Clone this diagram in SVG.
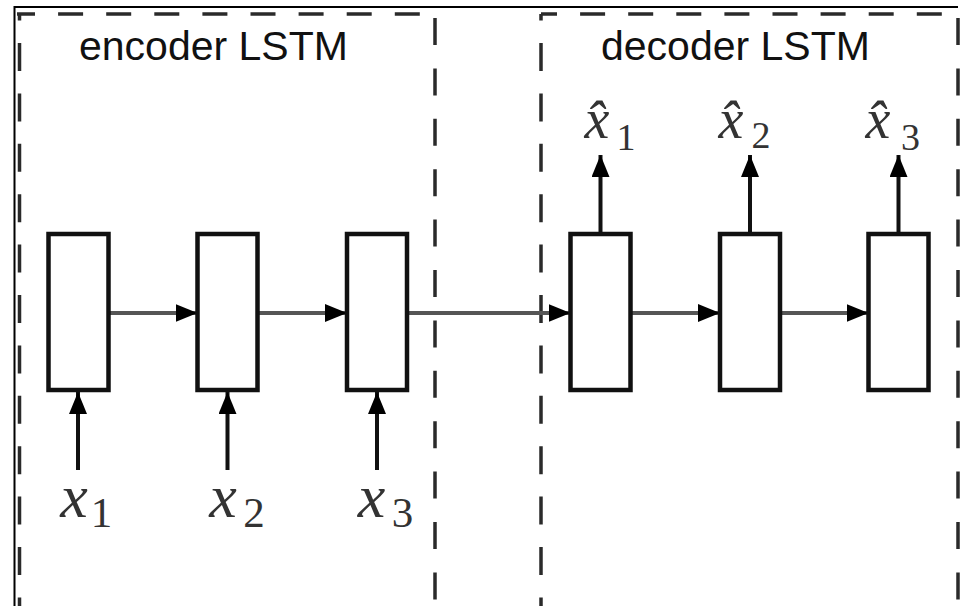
<svg xmlns="http://www.w3.org/2000/svg" width="961" height="606" viewBox="0 0 961 606">
<style>
.frame{stroke:#000;stroke-width:2;fill:none}
.dh{stroke:#2a2a2a;stroke-width:3.5;fill:none;stroke-dasharray:25 23.1}
.dv{stroke:#2a2a2a;stroke-width:3.5;fill:none;stroke-dasharray:28 22.4}
.dvr{stroke:#2a2a2a;stroke-width:3.5;fill:none;stroke-dasharray:27 23.4}
.cell{fill:#fff;stroke:#111;stroke-width:4.5}
.flow{stroke:#555;stroke-width:4;fill:none;marker-end:url(#ah)}
.io{stroke:#111;stroke-width:4;fill:none;marker-end:url(#ah)}
.title{font-family:"Liberation Sans",Arial,sans-serif;font-size:41px;fill:#111}
.mi{font-family:"Liberation Serif","Times New Roman",serif;font-style:italic;fill:#333}
.sub{font-family:"Liberation Serif","Times New Roman",serif;fill:#333}
</style>
<defs>
<marker id="ah" markerUnits="userSpaceOnUse" markerWidth="24" markerHeight="20" refX="22" refY="9" orient="auto">
<path d="M0,0 L22,9 L0,18 z" fill="#000"/>
</marker>
</defs>
<rect width="961" height="606" fill="#fff"/>
<g id="frame">
<line class="frame" x1="14" y1="7" x2="958" y2="7"/>
<line class="frame" x1="14.5" y1="6" x2="14.5" y2="606"/>
</g>
<g id="encoder-region">
<line class="dh" x1="17" y1="14" x2="435" y2="14" stroke-dashoffset="7"/>
<line class="dv" x1="19.5" y1="14" x2="19.5" y2="606" stroke-dashoffset="21.4"/>
<line class="dvr" x1="435" y1="18" x2="435" y2="606"/>
<text class="title" x="79" y="60">encoder LSTM</text>
</g>
<g id="decoder-region">
<line class="dh" x1="541" y1="14" x2="958" y2="14" stroke-dashoffset="9"/>
<line class="dv" x1="541" y1="14" x2="541" y2="606" stroke-dashoffset="21.4"/>
<line class="dvr" x1="958" y1="18" x2="958" y2="606"/>
<text class="title" x="601" y="60">decoder LSTM</text>
</g>
<g id="connectors">
<line class="flow" x1="108" y1="313" x2="197.5" y2="313"/>
<line class="flow" x1="257.5" y1="313" x2="347" y2="313"/>
<line class="flow" x1="407" y1="313" x2="570.5" y2="313"/>
<line class="flow" x1="630.5" y1="313" x2="720" y2="313"/>
<line class="flow" x1="780" y1="313" x2="868.5" y2="313"/>
<line class="io" x1="78" y1="470" x2="78" y2="392"/>
<line class="io" x1="227.5" y1="470" x2="227.5" y2="392"/>
<line class="io" x1="377" y1="470" x2="377" y2="392"/>
<line class="io" x1="600.5" y1="232" x2="600.5" y2="155"/>
<line class="io" x1="750" y1="232" x2="750" y2="155"/>
<line class="io" x1="898.5" y1="232" x2="898.5" y2="155"/>
</g>
<g id="enc1"><rect class="cell" x="48.5" y="234" width="60" height="156"/></g>
<g id="enc2"><rect class="cell" x="197.5" y="234" width="60" height="156"/></g>
<g id="enc3"><rect class="cell" x="347" y="234" width="60" height="156"/></g>
<g id="dec1"><rect class="cell" x="570.5" y="234" width="60" height="156"/></g>
<g id="dec2"><rect class="cell" x="720" y="234" width="60" height="156"/></g>
<g id="dec3"><rect class="cell" x="868.5" y="234" width="60" height="156"/></g>
<g id="inputs" text-anchor="middle">
<text><tspan class="mi" x="74" y="517" font-size="62">x</tspan><tspan class="sub" x="101.5" y="527" font-size="43">1</tspan></text>
<text><tspan class="mi" x="223" y="517" font-size="62">x</tspan><tspan class="sub" x="254" y="527" font-size="43">2</tspan></text>
<text><tspan class="mi" x="371.5" y="517" font-size="62">x</tspan><tspan class="sub" x="402.5" y="527" font-size="43">3</tspan></text>
</g>
<g id="outputs" text-anchor="middle">
<text><tspan class="mi" x="597" y="138" font-size="56">x̂</tspan><tspan class="sub" x="626" y="150" font-size="38">1</tspan></text>
<text><tspan class="mi" x="731" y="138" font-size="56">x̂</tspan><tspan class="sub" x="761" y="148" font-size="38">2</tspan></text>
<text><tspan class="mi" x="878" y="138" font-size="56">x̂</tspan><tspan class="sub" x="910.5" y="150" font-size="38">3</tspan></text>
</g>
</svg>
